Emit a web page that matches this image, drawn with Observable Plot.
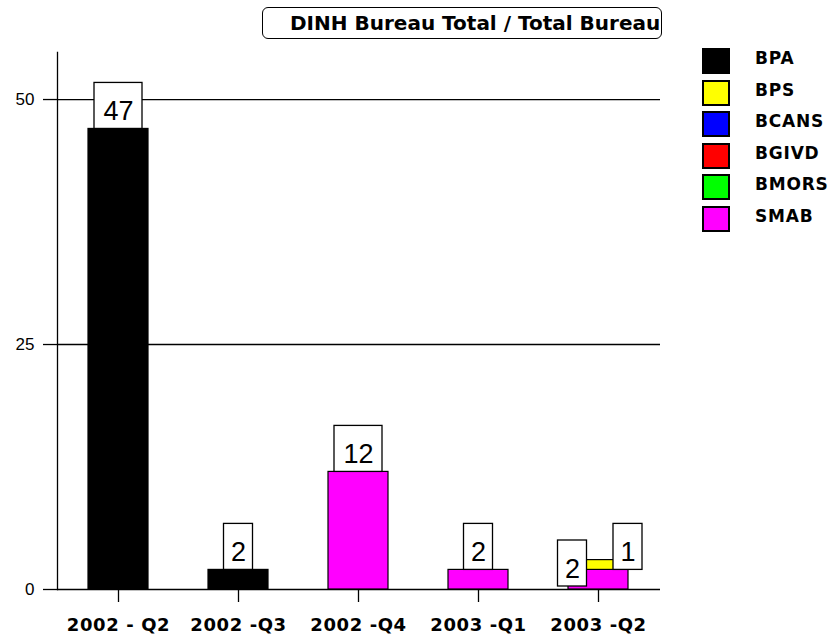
<!DOCTYPE html>
<html>
<head>
<meta charset="utf-8">
<script src="https://cdn.jsdelivr.net/npm/d3@7"></script>
<script src="https://cdn.jsdelivr.net/npm/@observablehq/plot@0.6"></script>
<style>
  body { margin: 0; background: #fff; }
  #wrap { position: relative; width: 832px; height: 637px; overflow: hidden; background: #fff; }
  #chart svg { position: absolute; left: 0; top: 0; }
  #chart svg g[aria-label="x-axis tick label"] text { letter-spacing: 0.6px; }
  #title { position: absolute; left: 262px; top: 7px; width: 400px; height: 32px; border: 1.5px solid #000;
           border-radius: 6px; box-sizing: border-box; white-space: nowrap;
           font: bold 20px "DejaVu Sans"; line-height: 31px; padding-left: 27px; color: #000; background: #fff; }
  #legend { position: absolute; left: 702px; top: 48px; width: 130px; height: 200px; }
  .row { position: absolute; left: 0; height: 26px; width: 130px; }
  .sw { position: absolute; left: 0; top: 0; width: 28px; height: 26px; border: 2px solid #000; box-sizing: border-box; }
  .lb { position: absolute; left: 53px; top: 0; line-height: 26px; font: bold 17px "DejaVu Sans"; letter-spacing: 0.8px; color: #000; }
</style>
</head>
<body>
<div id="wrap">
  <div id="chart"></div>
  <div id="title"></div>
  <div id="legend"></div>
</div>
<script>
const titleText = "DINH Bureau Total / Total Bureau";
const quarters = ["2002 - Q2", "2002 -Q3", "2002 -Q4", "2003 -Q1", "2003 -Q2"];
const seriesNames = ["BPA", "BPS", "BCANS", "BGIVD", "BMORS", "SMAB"];
const seriesColors = ["#000000", "#ffff00", "#0000ff", "#ff0000", "#00ff00", "#ff00ff"];
const BPA   = [47, 2, 0, 0, 0];
const BPS   = [0, 0, 0, 0, 1];
const BCANS = [0, 0, 0, 0, 0];
const BGIVD = [0, 0, 0, 0, 0];
const BMORS = [0, 0, 0, 0, 0];
const SMAB  = [0, 0, 12, 2, 2];
const yTicks = [0, 25, 50];

const values = {BPA, BPS, BCANS, BGIVD, BMORS, SMAB};
const stackOrder = seriesNames.slice().reverse(); // SMAB at the bottom

const segments = [];
quarters.forEach((q, i) => {
  let base = 0;
  for (const s of stackOrder) {
    const v = values[s][i];
    if (v > 0) {
      segments.push({quarter: q, series: s, value: v, y1: base, y2: base + v});
      base += v;
    }
  }
});

const counts = d3.rollup(segments, v => v.length, d => d.quarter);
const singleLabels = segments.filter(d => counts.get(d.quarter) === 1).map(d => ({...d, at: d.y2}));
const multi = segments.filter(d => counts.get(d.quarter) > 1);
const multiLeft = multi.filter((d, i, a) => a.findIndex(e => e.quarter === d.quarter) === i).map(d => ({...d, at: d.y1}));
const multiRight = multi.filter(d => !multiLeft.some(e => e.quarter === d.quarter && e.series === d.series)).map(d => ({...d, at: d.y1}));

function labelMarks(rows, dx, dy) {
  const wide = rows.filter(d => String(d.value).length > 1);
  const narrow = rows.filter(d => String(d.value).length === 1);
  const box = (data, inset) => Plot.barY(data, {
    x: "quarter", y1: "at", y2: "at", insetTop: -46, insetLeft: inset, insetRight: inset,
    dx, dy, fill: "white", stroke: "black", strokeWidth: 1.3
  });
  return [
    box(wide, 6),
    box(narrow, 15.5),
    Plot.text(rows, {
      x: "quarter", y: "at", text: d => String(d.value), lineAnchor: "bottom",
      dx, dy: dy - 9, fontSize: 27, fontFamily: "Liberation Sans", fill: "black"
    })
  ];
}

const chart = Plot.plot({
  width: 832,
  height: 637,
  marginLeft: 57,
  marginRight: 174,
  marginTop: 52,
  marginBottom: 48,
  style: {fontFamily: "Liberation Sans", fontSize: "17px", color: "#000", background: "transparent"},
  x: {domain: quarters, paddingInner: 0.5, paddingOuter: 0.25, label: null},
  y: {domain: [0, 54.8], label: null},
  color: {domain: seriesNames, range: seriesColors},
  marks: [
    Plot.ruleY(yTicks, {stroke: "black", strokeWidth: 1.3, insetRight: -2}),
    Plot.barY(segments, {x: "quarter", y1: "y1", y2: "y2", fill: "series", stroke: "black", strokeWidth: 1.2}),
    ...labelMarks(singleLabels, 0, 0),
    ...labelMarks(multiLeft, -26, -3),
    ...labelMarks(multiRight, 29.5, 0),
    Plot.frame({anchor: "left", stroke: "black", strokeWidth: 1.3}),
    Plot.axisY({ticks: yTicks, tickSize: 14, tickPadding: 9, label: null, fontSize: 17, strokeWidth: 1.3}),
    Plot.axisX({tickSize: 13, tickPadding: 16, label: null, fontSize: 18, fontWeight: "bold",
                fontFamily: "DejaVu Sans", strokeWidth: 1.3})
  ]
});
document.getElementById("chart").appendChild(chart);

document.getElementById("title").textContent = titleText;

const legend = document.getElementById("legend");
seriesNames.forEach((name, i) => {
  const row = document.createElement("div");
  row.className = "row";
  row.style.top = (i * 31.6) + "px";
  const sw = document.createElement("div");
  sw.className = "sw";
  sw.style.background = seriesColors[i];
  const lb = document.createElement("div");
  lb.className = "lb";
  lb.textContent = name;
  row.appendChild(sw);
  row.appendChild(lb);
  legend.appendChild(row);
});
</script>
</body>
</html>
